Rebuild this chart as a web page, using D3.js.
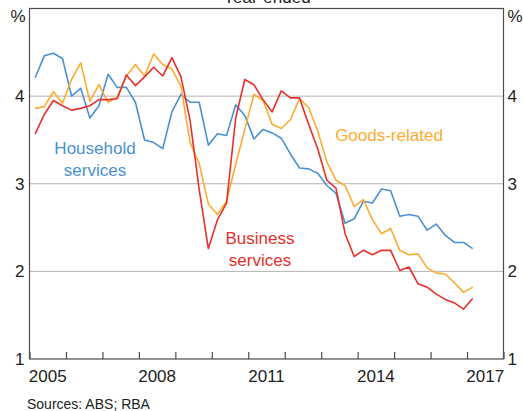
<!DOCTYPE html>
<html>
<head>
<meta charset="utf-8">
<script src="https://cdn.jsdelivr.net/npm/d3@7"></script>
<style>
  html, body { margin: 0; padding: 0; background: #fff; }
  svg { display: block; }
  text { font-family: Arial, "Liberation Sans", sans-serif; }
</style>
</head>
<body>
<svg id="chart" width="523" height="411"></svg>
<script>
const quarters = [
  "2005Q1","2005Q2","2005Q3","2005Q4","2006Q1","2006Q2","2006Q3","2006Q4",
  "2007Q1","2007Q2","2007Q3","2007Q4","2008Q1","2008Q2","2008Q3","2008Q4",
  "2009Q1","2009Q2","2009Q3","2009Q4","2010Q1","2010Q2","2010Q3","2010Q4",
  "2011Q1","2011Q2","2011Q3","2011Q4","2012Q1","2012Q2","2012Q3","2012Q4",
  "2013Q1","2013Q2","2013Q3","2013Q4","2014Q1","2014Q2","2014Q3","2014Q4",
  "2015Q1","2015Q2","2015Q3","2015Q4","2016Q1","2016Q2","2016Q3","2016Q4",
  "2017Q1"
];
const householdServices = [
  4.21,4.46,4.49,4.43,4.00,4.09,3.75,3.89,4.25,4.10,4.10,3.93,3.50,3.47,3.40,3.82,
  4.02,3.93,3.93,3.44,3.57,3.55,3.90,3.78,3.51,3.62,3.58,3.52,3.34,3.18,3.17,3.12,
  2.98,2.89,2.55,2.60,2.80,2.78,2.94,2.92,2.63,2.65,2.63,2.47,2.54,2.41,2.33,2.33,
  2.26
];
const goodsRelated = [
  3.86,3.88,4.05,3.92,4.19,4.38,3.94,4.13,3.93,3.99,4.23,4.36,4.23,4.48,4.36,4.31,
  4.11,3.47,3.23,2.77,2.65,2.80,3.22,3.62,4.02,3.95,3.68,3.63,3.73,3.97,3.87,3.60,
  3.25,3.04,2.98,2.74,2.82,2.59,2.43,2.49,2.24,2.19,2.20,2.04,1.98,1.97,1.87,1.76,
  1.82
];
const businessServices = [
  3.57,3.79,3.95,3.89,3.84,3.86,3.89,3.96,3.96,3.97,4.24,4.12,4.22,4.33,4.23,4.44,
  4.22,3.72,2.93,2.26,2.59,2.78,3.75,4.19,4.13,3.96,3.82,4.06,3.98,3.98,3.68,3.40,
  3.04,2.95,2.43,2.17,2.24,2.19,2.24,2.24,2.01,2.05,1.86,1.82,1.74,1.68,1.64,1.57,
  1.69
];
const yearTicks = [2005,2006,2007,2008,2009,2010,2011,2012,2013,2014,2015,2016,2017,2018];
const yearLabels = [2005,2008,2011,2014,2017];
const yTickValues = [1,2,3,4];
const gridValues = [2,3,4];

const series = [
  { name: "Household services", values: householdServices, color: "#4a90d4",
    label: ["Household", "services"], lx: 95, ly: 154 },
  { name: "Goods-related", values: goodsRelated, color: "#fbac2e",
    label: ["Goods-related"], lx: 389, ly: 141 },
  { name: "Business services", values: businessServices, color: "#e5302c",
    label: ["Business", "services"], lx: 260, ly: 244 }
];

const svg = d3.select("#chart");
const L = 29.5, R = 503.5, T = 8.5, B = 359;
const fs = 17;
const FF = "Arial, 'Liberation Sans', sans-serif";

const toTime = q => +q.slice(0,4) + (+q.slice(5) - 1) / 4 + 0.155;

const x = d3.scaleLinear().domain([2005, 2018]).range([L, R]);
const y = d3.scaleLinear().domain([1, 5]).range([B, T]);

// gridlines
svg.append("g").selectAll("line").data(gridValues).join("line")
  .attr("x1", L).attr("x2", R)
  .attr("y1", d => y(d)).attr("y2", d => y(d))
  .attr("stroke", "#b3b3b3").attr("stroke-width", 1);

// bottom axis ticks (inward)
const xAxis = d3.axisBottom(x).tickValues(yearTicks).tickSize(-7).tickFormat("");
const gx = svg.append("g").attr("transform", `translate(0,${B})`).call(xAxis);
gx.select(".domain").remove();
gx.selectAll("line").attr("stroke", "#4d4d4d").attr("stroke-width", 1.2);

// year labels centered in year span
svg.append("g").selectAll("text").data(yearLabels).join("text")
  .attr("x", d => x(d + 0.5)).attr("y", 382)
  .attr("text-anchor", "middle").attr("font-size", fs).attr("fill", "#222")
  .text(d => d);

// y labels left and right
const yAxisL = d3.axisLeft(y).tickValues(yTickValues).tickSize(0).tickPadding(5)
  .tickFormat(d3.format("d"));
const gyl = svg.append("g").attr("transform", `translate(${L},0)`).call(yAxisL);
gyl.select(".domain").remove();
gyl.selectAll("text").attr("font-size", fs).attr("fill", "#222").attr("font-family", FF);
const yAxisR = d3.axisRight(y).tickValues(yTickValues).tickSize(0).tickPadding(4)
  .tickFormat(d3.format("d"));
const gyr = svg.append("g").attr("transform", `translate(${R},0)`).call(yAxisR);
gyr.select(".domain").remove();
gyr.selectAll("text").attr("font-size", fs).attr("fill", "#222").attr("font-family", FF);

// % units
svg.append("text").attr("x", L - 4).attr("y", 22).attr("text-anchor", "end")
  .attr("font-size", fs).attr("fill", "#222").text("%");
svg.append("text").attr("x", R + 4).attr("y", 22).attr("text-anchor", "start")
  .attr("font-size", fs).attr("fill", "#222").text("%");

// title (cut at top, as in the reference)
svg.append("text").attr("x", 267).attr("y", 2.5).attr("text-anchor", "middle")
  .attr("font-size", fs).attr("fill", "#222").text("Year-ended");

// lines
const line = d3.line()
  .x((d, i) => x(toTime(quarters[i])))
  .y(d => y(d));

series.forEach(s => {
  svg.append("path").datum(s.values)
    .attr("fill", "none").attr("stroke", s.color)
    .attr("stroke-width", 1.6).attr("stroke-linejoin", "round")
    .attr("d", line);
});

// series labels
series.forEach(s => {
  const t = svg.append("text").attr("text-anchor", "middle")
    .attr("font-size", fs).attr("fill", s.color);
  s.label.forEach((ln, k) => {
    t.append("tspan").attr("x", s.lx).attr("y", s.ly + k * 22).text(ln);
  });
});

// plot frame
svg.append("rect").attr("x", L).attr("y", T).attr("width", R - L).attr("height", B - T)
  .attr("fill", "none").attr("stroke", "#4d4d4d").attr("stroke-width", 1.2);

// source
svg.append("text").attr("x", 27).attr("y", 409).attr("font-size", 14)
  .attr("fill", "#222").text("Sources: ABS; RBA");
</script>
</body>
</html>
